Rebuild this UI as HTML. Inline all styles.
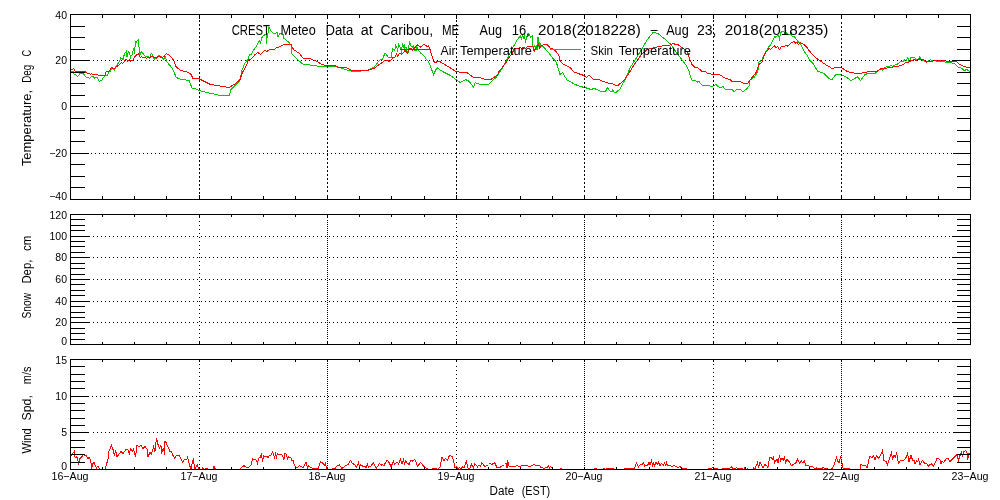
<!DOCTYPE html>
<html><head><meta charset="utf-8"><style>
html,body{margin:0;padding:0;background:#fff;width:1000px;height:500px;overflow:hidden}
svg{display:block}
text{font-family:"Liberation Sans",sans-serif;fill:#000;-webkit-font-smoothing:antialiased}
.t{will-change:transform}
</style></head><body>
<svg width="1000" height="500" viewBox="0 0 1000 500">
<rect width="1000" height="500" fill="#fff"/>
<g shape-rendering="crispEdges">
<polyline points="70.0,71.5 73.3,71.5 74.4,74.8 76.3,75.1 77.4,76.5 79.9,73.8 81.5,73.2 83.2,73.5 84.8,75.7 86.5,77.6 88.7,77.6 89.5,78.7 90.9,77.0 92.0,76.2 93.7,77.0 94.8,78.2 95.8,77.6 97.5,77.6 99.4,81.5 100.8,80.6 101.9,80.1 103.0,78.2 105.2,75.7 106.3,75.1 107.4,75.7 108.5,72.7 110.7,70.7 112.3,68.2 114.5,70.7 115.7,66.9 117.3,64.4 118.4,63.0 119.5,61.1 120.0,60.0 120.7,58.1 122.2,58.7 123.4,59.6 124.3,53.6 124.9,53.0 126.1,52.7 126.4,50.3 127.0,57.2 127.9,53.0 128.5,51.5 129.4,52.4 129.7,54.2 130.6,57.2 131.2,55.4 132.7,54.2 133.3,48.2 134.2,48.5 134.5,54.2 135.4,41.6 136.0,43.4 137.5,40.4 138.4,39.5 138.7,46.7 139.6,47.6 139.9,55.7 141.1,51.5 142.6,53.0 144.4,55.4 145.6,56.3 148.6,56.3 149.5,58.1 151.3,53.3 152.8,54.8 154.0,59.3 156.4,57.8 158.8,55.4 160.6,56.3 163.6,59.3 165.4,56.6 166.6,61.4 169.0,64.4 172.5,68.5 176.2,77.5 180.0,79.0 189.0,80.5 192.0,88.0 195.0,88.7 201.0,91.0 210.0,93.2 220.5,95.5 229.5,95.5 231.0,89.5 240.0,80.5 242.0,70.0 245.0,63.0 247.5,60.0 249.0,56.0 250.0,54.5 251.5,54.0 253.0,51.0 256.0,47.0 258.5,42.0 259.5,40.5 260.5,43.0 261.5,38.5 263.0,36.0 264.5,35.0 266.0,34.5 266.5,43.5 267.0,38.0 269.0,27.5 271.0,31.0 273.0,33.0 275.0,34.0 277.0,32.5 278.0,36.5 279.5,34.0 281.5,33.5 283.0,34.5 284.0,38.5 288.0,41.5 291.0,45.0 292.0,54.0 295.0,57.0 299.0,61.0 303.0,64.0 310.0,65.0 317.0,66.0 325.0,66.0 327.0,66.2 334.5,66.2 352.5,71.5 366.0,70.7 372.0,68.2 374.1,67.5 377.6,62.6 380.4,59.5 382.5,59.1 383.6,56.3 385.3,53.1 388.1,57.0 391.6,57.3 392.3,48.6 393.7,49.6 394.8,51.0 395.4,45.1 396.9,47.2 397.6,51.8 398.6,43.0 399.6,46.9 400.7,47.9 401.4,53.5 402.4,43.0 403.5,48.2 404.2,44.4 404.9,48.2 405.9,46.9 407.0,50.7 408.1,52.1 408.8,46.5 409.4,42.3 411.2,46.1 412.2,47.5 413.6,46.1 414.7,50.4 416.1,50.7 416.8,47.2 418.2,49.3 420.3,52.8 422.4,54.2 424.5,56.3 426.6,59.8 428.7,61.9 430.8,67.5 432.2,71.0 433.5,74.5 437.0,67.7 442.5,71.5 450.0,75.2 456.0,79.7 460.4,82.7 463.4,80.5 466.0,79.7 469.0,81.2 473.5,87.2 475.0,82.7 479.5,84.2 488.5,84.2 496.0,77.5 502.0,68.5 505.5,62.3 507.6,57.4 510.1,53.2 513.2,46.9 516.0,42.0 518.1,38.5 520.5,35.7 521.2,39.2 522.6,35.0 523.7,38.5 524.4,33.6 525.5,42.7 526.5,37.1 527.9,35.7 529.0,33.6 530.4,37.1 532.1,36.0 533.1,47.6 534.2,45.5 535.2,47.6 536.3,46.2 537.0,50.0 538.0,37.1 538.8,46.9 539.8,42.0 540.9,46.2 542.6,46.2 545.4,49.0 549.6,53.9 551.0,56.0 555.2,60.9 556.6,63.0 560.0,74.5 562.5,72.5 567.0,80.0 570.0,81.5 574.0,84.0 580.0,86.5 585.0,87.5 591.0,89.5 594.0,88.5 597.0,89.5 601.0,91.5 605.5,91.5 607.5,87.5 609.5,90.5 612.0,92.0 612.5,89.5 614.5,92.5 616.5,92.0 620.0,89.0 622.5,84.0 626.0,78.0 630.0,68.0 634.0,61.5 635.0,60.0 641.0,50.5 647.0,40.0 653.0,32.5 657.5,33.2 665.0,39.2 671.0,44.5 677.0,53.5 680.0,57.0 684.0,62.5 686.0,65.0 689.0,71.0 691.5,80.0 695.0,80.5 697.5,82.0 699.0,81.5 701.5,85.0 705.0,85.5 707.0,86.0 709.0,85.0 711.0,87.0 713.0,86.0 716.0,84.5 718.0,86.5 721.0,88.0 723.0,86.5 725.0,89.0 730.0,90.0 732.0,89.5 734.0,91.5 737.0,89.5 740.0,89.5 743.0,91.5 746.0,89.5 749.0,86.0 750.0,80.0 754.0,77.5 756.0,74.5 758.0,70.5 759.0,62.0 760.0,61.5 762.0,60.0 764.0,55.0 766.2,51.3 768.3,47.1 770.4,45.0 772.5,41.5 774.6,36.6 776.0,37.3 777.4,35.2 778.8,35.2 779.5,40.5 780.2,33.8 781.6,31.7 783.7,31.7 784.4,33.1 785.8,32.0 787.9,34.5 790.0,34.5 791.0,32.4 792.1,35.9 794.2,36.6 795.6,38.0 797.7,41.5 800.5,43.6 802.6,48.5 804.7,52.0 806.8,54.8 808.9,59.0 813.0,63.5 817.5,71.0 823.5,73.2 828.0,77.7 831.7,80.0 835.5,74.7 841.5,74.7 846.0,77.0 851.2,80.7 857.5,76.7 860.5,80.5 865.0,74.5 869.5,73.0 875.5,73.0 880.0,69.3 881.4,68.8 882.7,70.2 884.5,68.0 887.2,66.2 889.0,66.6 890.8,65.2 892.6,66.2 894.4,65.2 897.1,64.3 899.8,62.1 903.4,61.2 904.8,59.9 906.1,60.3 907.9,57.6 908.8,61.2 909.7,60.8 911.0,57.6 914.2,57.1 916.0,59.4 917.8,59.0 919.6,57.1 921.4,59.4 925.0,61.7 927.7,61.2 930.4,59.9 934.0,60.8 943.0,61.7 948.4,62.5 954.7,63.5 958.3,67.0 961.0,68.0 964.6,70.7 966.4,69.3 970.0,71.5" fill="none" stroke="#00c800" stroke-width="1"/>
<polyline points="70.0,69.6 72.5,69.3 73.6,68.2 74.7,70.2 75.2,71.5 77.7,71.5 80.2,71.5 84.6,71.5 86.0,72.4 87.6,73.5 89.5,73.5 90.6,74.6 91.5,73.5 92.5,74.3 97.5,74.6 98.6,75.7 104.7,75.7 106.3,71.5 107.9,71.5 109.6,70.5 111.5,67.4 112.9,68.2 115.1,68.2 116.2,66.9 117.3,66.3 119.5,64.4 121.2,62.5 122.8,63.6 124.4,61.6 124.6,60.8 126.4,59.3 127.9,61.4 129.4,59.3 130.6,61.1 133.0,60.2 135.4,55.7 138.4,53.6 139.6,56.3 140.5,57.5 141.4,56.3 142.6,57.5 145.6,57.5 146.5,58.4 147.7,57.2 149.2,57.8 151.9,56.3 154.9,57.8 156.4,58.1 158.8,56.0 161.8,57.8 164.2,56.3 166.3,53.6 167.8,54.2 169.0,54.8 172.6,58.7 174.4,62.0 176.2,67.0 180.0,70.0 187.5,72.2 191.2,74.5 192.7,78.2 199.5,79.0 204.0,81.2 210.0,84.2 217.5,85.7 225.0,86.5 228.0,88.0 234.7,84.2 240.0,79.7 242.2,73.0 244.0,70.0 246.5,65.0 249.0,59.0 251.0,59.0 253.0,57.0 255.0,54.5 258.0,52.5 260.5,54.5 263.0,52.0 265.0,50.0 267.0,51.5 270.0,49.0 272.0,50.0 275.0,49.0 277.0,47.0 279.0,47.0 282.0,45.5 285.0,44.0 288.0,44.0 291.0,44.0 292.0,47.0 294.0,50.0 299.0,53.0 303.0,58.0 307.0,58.5 310.0,58.5 312.0,59.5 317.0,61.5 321.0,64.0 325.0,65.5 334.5,65.5 337.5,67.0 346.5,67.7 352.5,70.7 366.0,70.7 374.1,68.5 376.2,66.8 379.0,64.7 381.1,63.3 383.9,61.2 386.0,60.1 388.1,60.5 389.1,61.5 390.9,60.1 393.0,57.7 395.1,57.0 396.5,54.2 397.9,56.3 398.6,54.2 400.0,52.8 401.4,54.5 403.1,53.1 404.9,50.4 406.3,51.8 407.7,53.5 408.4,50.4 409.8,48.6 411.2,48.6 412.6,50.4 414.0,48.6 416.1,46.1 417.5,45.1 419.6,46.5 421.0,47.2 423.8,44.0 425.2,45.1 427.3,46.5 428.7,45.5 429.4,48.2 430.4,51.0 432.2,57.0 434.3,62.2 435.7,62.6 437.1,61.2 439.9,61.5 442.0,63.0 444.0,64.0 450.0,67.7 456.0,71.5 460.0,72.2 467.5,73.0 473.5,77.5 479.5,77.5 484.0,79.0 491.5,79.0 497.5,75.2 499.0,71.5 505.0,64.0 506.2,62.3 509.0,57.4 511.8,53.9 513.9,49.7 515.3,48.3 518.1,49.0 520.2,47.6 521.6,48.3 523.7,47.6 525.8,48.3 527.2,46.9 529.3,46.2 532.8,46.2 534.2,51.1 535.6,48.3 537.4,46.9 538.4,44.8 539.8,48.3 541.2,45.8 544.0,44.5 548.2,45.1 550.3,48.6 553.1,49.0 555.2,50.4 557.0,52.8 558.7,54.6 559.4,58.1 560.0,60.5 563.0,64.0 566.0,65.5 570.0,67.5 574.0,72.0 578.0,73.5 584.0,75.5 586.5,77.5 589.0,75.0 591.0,77.0 593.0,79.0 599.0,79.5 600.5,80.5 603.0,81.5 608.0,83.0 612.0,83.5 615.0,85.0 618.0,85.5 622.0,82.0 625.0,79.0 628.0,75.0 631.0,70.0 634.0,65.0 637.0,61.0 641.0,55.0 647.0,49.7 654.5,47.5 662.0,46.0 669.5,45.2 672.5,43.7 677.7,44.5 683.0,48.2 687.5,52.0 688.5,55.0 690.0,60.0 692.0,64.5 694.5,67.0 698.0,68.0 701.5,71.0 704.5,71.0 707.0,73.0 710.0,73.5 712.0,74.5 718.0,74.0 721.0,75.5 724.0,77.5 728.0,79.0 730.0,79.5 732.0,81.5 736.0,82.0 740.0,81.5 744.0,83.5 748.0,83.0 750.0,80.0 753.0,76.5 756.0,72.5 759.0,64.5 762.0,62.0 764.5,55.0 766.2,52.0 769.0,48.5 770.4,49.5 772.5,47.8 774.2,45.7 776.0,47.8 777.4,46.4 779.5,49.5 781.6,46.4 784.4,46.4 786.5,45.3 787.9,46.4 790.0,44.3 791.4,42.9 794.2,41.5 795.6,43.2 797.0,42.2 798.4,44.3 800.5,42.5 802.6,44.0 804.0,44.3 806.1,46.4 808.2,49.2 809.6,51.3 813.1,54.8 816.6,58.6 817.5,59.0 825.0,64.2 832.5,68.7 836.2,67.2 840.7,67.2 847.5,71.7 855.0,73.2 862.0,73.0 869.5,71.5 877.0,71.5 880.0,69.3 881.8,68.0 884.5,68.8 887.2,68.0 889.9,67.0 891.7,67.5 894.4,66.6 897.1,66.6 898.9,66.2 901.6,65.2 903.4,64.3 906.1,62.1 907.9,62.5 909.7,61.7 911.5,60.3 914.2,59.9 916.0,60.3 919.6,59.0 923.2,59.4 925.0,60.8 926.8,62.1 928.6,61.2 931.3,61.7 934.0,60.8 943.0,60.8 948.4,61.2 956.5,61.7 959.2,64.3 963.7,66.2 967.3,67.5 970.0,68.0" fill="none" stroke="#ff0000" stroke-width="1"/>
<polyline points="70.0,455.5 71.5,455.0 73.5,452.5 74.5,451.0 75.0,457.0 76.0,458.0 77.0,456.5 78.5,463.0 80.0,458.5 82.0,456.5 83.5,454.5 85.0,456.0 86.5,455.5 87.5,458.5 89.5,457.5 91.0,463.0 91.5,469.5 92.5,464.0 94.0,462.5 95.5,466.0 96.5,468.0 98.0,466.0 99.5,468.5 100.0,469.5 105.0,469.5 108.0,459.0 109.0,451.0 111.5,445.5 113.0,449.5 114.5,455.5 115.5,450.0 117.0,457.0 119.0,454.0 121.0,451.5 123.0,453.5 126.0,449.5 128.0,450.0 129.5,454.5 130.5,448.5 132.5,451.5 133.5,449.0 135.5,456.5 137.0,445.0 139.0,447.0 141.0,445.5 143.0,448.5 145.0,446.5 147.0,449.0 148.0,456.5 150.0,452.5 151.5,454.0 153.5,447.0 155.0,451.5 156.5,438.0 158.0,444.5 159.5,448.0 161.0,445.5 161.5,453.5 163.5,448.0 164.5,454.5 165.0,441.5 166.0,442.5 167.5,446.0 168.5,447.5 169.5,451.0 171.0,451.0 173.0,455.5 174.5,458.0 176.5,455.5 179.0,455.5 180.5,458.0 182.5,462.0 184.5,459.5 187.0,459.0 187.5,457.5 189.5,465.0 191.0,469.5 192.5,461.5 193.5,458.5 194.5,469.5 196.5,466.0 197.5,465.0 198.5,469.5 202.0,469.5 202.5,467.5 204.0,469.5 207.0,468.5 208.0,469.5 213.0,469.5 214.0,466.5 215.0,468.5 216.0,469.5 239.5,469.5 241.0,468.0 244.0,465.5 245.5,467.0 248.5,467.5 250.0,466.0 251.0,465.0 252.5,458.5 254.0,460.0 255.5,459.5 256.5,461.0 257.5,463.5 258.5,458.5 260.0,457.5 261.5,454.5 262.5,461.5 263.5,456.0 265.0,457.0 267.0,456.0 268.0,457.5 269.5,455.5 271.0,455.0 272.5,452.0 273.5,453.5 274.5,458.5 275.5,454.0 276.5,457.0 277.5,453.5 279.0,454.5 281.0,454.5 282.5,455.5 284.0,459.5 285.0,453.5 286.5,454.5 287.5,460.0 288.5,456.5 290.0,457.5 291.5,458.5 292.0,460.5 293.0,460.5 294.0,464.0 295.5,467.5 297.5,467.5 299.5,465.5 301.0,466.5 303.0,467.5 306.0,462.5 307.5,468.0 308.5,466.0 311.0,467.5 313.0,468.5 316.5,468.5 318.5,468.0 320.5,461.5 322.5,463.0 324.5,465.0 325.5,463.0 326.5,468.5 329.0,469.5 335.0,468.5 337.5,465.5 339.5,465.0 342.0,468.5 345.0,466.0 348.0,464.5 350.5,460.5 352.5,463.5 354.5,464.5 356.5,467.5 357.0,466.0 358.5,462.5 359.5,467.0 360.5,464.5 362.5,466.0 364.5,466.0 366.0,467.5 367.5,464.5 368.5,467.0 371.0,466.0 373.5,462.5 375.0,466.0 376.5,468.0 379.5,463.5 381.5,465.0 382.5,464.5 384.0,465.5 387.0,460.0 388.5,461.5 391.0,466.5 393.5,461.5 394.5,464.0 396.0,463.0 397.5,462.5 398.5,464.0 400.5,459.5 402.0,464.0 403.5,459.5 404.5,464.5 405.5,460.5 407.0,463.0 409.0,464.5 410.5,460.5 412.5,461.0 414.5,459.5 416.0,462.0 417.5,466.5 420.5,462.5 423.5,466.0 425.0,467.5 427.5,468.5 429.0,469.5 435.0,468.5 438.0,469.5 440.0,467.0 442.0,457.5 444.0,461.0 445.5,458.5 447.5,460.0 449.5,455.5 450.0,455.0 451.5,456.5 452.5,456.5 454.0,463.0 455.0,467.5 456.5,466.5 458.0,468.5 459.5,467.5 461.0,468.5 462.5,467.0 464.0,468.0 465.5,464.0 466.5,460.0 467.5,467.0 469.0,469.5 470.5,467.0 471.5,464.0 472.5,466.0 473.5,468.0 474.5,464.0 476.5,465.5 477.5,467.0 479.0,465.0 480.5,466.5 481.5,463.0 483.5,464.5 484.5,466.5 487.0,465.5 488.5,464.5 490.0,463.0 492.0,464.5 494.5,462.5 495.5,464.5 497.0,467.5 500.0,467.5 502.0,466.0 504.5,464.5 506.0,463.0 507.0,468.0 507.5,460.0 509.0,466.0 512.0,466.5 515.0,467.0 517.0,465.5 519.0,466.5 521.0,466.0 524.0,465.0 526.0,466.0 527.0,465.0 529.0,467.0 531.0,466.0 534.5,464.5 537.0,466.0 539.5,465.5 541.0,467.5 543.0,468.0 545.0,468.0 547.0,467.5 548.5,466.0 549.5,468.0 550.5,466.5 552.0,468.0 553.0,469.5 560.0,469.5 561.0,468.5 562.0,469.5 594.0,469.5 594.5,468.5 596.5,468.5 597.0,469.5 603.5,469.5 604.0,468.5 605.0,469.5 607.0,468.5 609.0,468.5 610.0,469.5 611.0,468.5 613.0,468.5 614.0,469.5 624.0,469.5 625.0,468.5 630.0,468.5 631.0,469.5 632.0,468.5 634.5,468.5 636.5,463.0 638.5,467.0 640.0,465.0 642.0,464.5 643.5,462.5 644.5,466.0 646.0,465.0 647.5,465.5 649.0,462.5 650.0,464.5 651.5,460.5 652.5,465.5 653.5,463.0 654.5,466.0 656.0,462.5 657.5,464.5 658.5,462.5 660.0,465.5 661.5,463.5 663.5,465.0 664.5,463.0 666.0,465.5 666.5,462.5 668.0,466.0 670.0,465.5 672.0,466.5 674.0,465.5 676.0,466.5 678.0,467.5 680.0,466.5 682.0,468.5 684.0,468.0 686.0,468.5 687.0,469.5 708.0,469.5 709.0,468.5 711.0,468.5 713.0,467.5 714.5,468.5 717.0,468.5 718.0,469.5 722.0,469.5 723.0,468.5 725.0,468.0 727.0,468.5 730.0,468.0 731.5,466.5 732.5,468.5 734.5,468.5 735.0,469.5 736.5,467.5 738.0,469.5 740.0,468.0 742.0,468.5 743.5,469.5 745.0,467.5 746.5,469.5 747.5,468.5 748.5,469.5 752.5,469.5 753.5,468.0 755.0,468.5 756.0,466.0 757.5,462.5 758.5,467.5 760.0,462.0 762.0,466.0 763.0,467.5 765.0,464.5 767.0,466.0 768.0,467.5 769.5,458.0 771.0,457.0 772.5,459.5 773.5,457.5 774.5,463.0 776.0,460.5 777.0,459.5 778.0,463.0 779.5,455.5 780.5,461.0 782.0,458.0 783.5,460.5 784.5,456.5 785.5,463.0 787.0,459.5 789.0,461.5 791.5,465.5 793.5,464.5 796.0,462.5 797.5,459.5 799.5,463.0 801.5,461.0 803.0,463.0 804.5,460.5 805.5,465.5 808.0,465.5 809.5,466.5 812.5,466.5 814.5,468.5 816.5,468.0 818.5,468.5 822.0,468.5 823.0,467.5 825.0,468.5 827.0,468.5 829.0,469.5 830.0,469.5 832.0,468.5 834.0,465.0 836.5,457.5 838.0,461.5 839.0,462.5 840.5,457.5 841.5,460.0 842.0,463.5 843.0,468.0 844.5,468.5 846.0,468.5 847.5,468.5 849.5,468.5 850.0,469.5 860.0,469.5 861.0,464.5 863.0,465.5 866.0,466.0 867.0,467.5 868.5,462.5 869.5,456.5 872.0,457.5 873.5,455.5 875.0,459.5 876.5,456.0 878.5,458.0 880.5,455.5 882.5,450.5 884.0,460.5 886.0,461.5 887.5,464.5 889.0,460.5 890.5,455.0 891.5,452.5 892.5,458.5 894.0,455.5 895.5,457.5 896.5,452.5 898.5,463.5 900.5,460.0 901.5,460.0 904.0,460.0 906.0,457.5 907.5,453.5 909.0,461.5 911.0,455.5 912.5,460.0 914.0,460.5 915.0,464.0 916.5,461.0 918.0,461.5 918.5,459.5 920.0,465.0 921.5,462.0 922.5,460.5 924.5,463.0 926.0,463.0 928.5,466.0 930.0,464.5 931.5,464.0 933.5,466.0 935.5,462.5 937.0,458.5 938.5,458.5 940.0,460.0 941.0,464.0 942.0,461.5 943.5,462.5 946.0,459.0 948.0,458.5 949.5,461.0 950.5,461.0 954.0,457.5 957.0,454.5 958.5,460.5 960.0,455.5 961.5,452.5 962.5,457.0 964.0,451.5 965.5,450.5 967.0,452.5 967.5,459.5 969.0,453.5 970.0,453.5" fill="none" stroke="#ff0000" stroke-width="1"/>
<rect x="400" y="49" width="31" height="1" fill="#ff0000"/>
<rect x="550" y="49" width="31" height="1" fill="#00c800"/>
</g>
<g shape-rendering="crispEdges">
<rect x="70" y="14" width="901" height="1" fill="#000"/>
<rect x="70" y="199" width="901" height="1" fill="#000"/>
<rect x="70" y="14" width="1" height="186" fill="#000"/>
<rect x="970" y="14" width="1" height="186" fill="#000"/>
<rect x="70" y="14" width="20" height="1" fill="#000"/>
<rect x="952" y="14" width="19" height="1" fill="#000"/>
<rect x="70" y="26" width="15" height="1" fill="#000"/>
<rect x="957" y="26" width="14" height="1" fill="#000"/>
<rect x="70" y="37" width="15" height="1" fill="#000"/>
<rect x="957" y="37" width="14" height="1" fill="#000"/>
<rect x="70" y="49" width="15" height="1" fill="#000"/>
<rect x="957" y="49" width="14" height="1" fill="#000"/>
<rect x="70" y="60" width="20" height="1" fill="#000"/>
<rect x="952" y="60" width="19" height="1" fill="#000"/>
<path d="M93 60.5H951" stroke="#000" stroke-width="1" stroke-dasharray="1 3"/>
<rect x="70" y="72" width="15" height="1" fill="#000"/>
<rect x="957" y="72" width="14" height="1" fill="#000"/>
<rect x="70" y="83" width="15" height="1" fill="#000"/>
<rect x="957" y="83" width="14" height="1" fill="#000"/>
<rect x="70" y="95" width="15" height="1" fill="#000"/>
<rect x="957" y="95" width="14" height="1" fill="#000"/>
<rect x="70" y="106" width="19" height="1" fill="#000"/>
<rect x="953" y="106" width="18" height="1" fill="#000"/>
<path d="M92 106.5H952" stroke="#000" stroke-width="1" stroke-dasharray="1 3"/>
<rect x="70" y="118" width="15" height="1" fill="#000"/>
<rect x="957" y="118" width="14" height="1" fill="#000"/>
<rect x="70" y="130" width="15" height="1" fill="#000"/>
<rect x="957" y="130" width="14" height="1" fill="#000"/>
<rect x="70" y="141" width="15" height="1" fill="#000"/>
<rect x="957" y="141" width="14" height="1" fill="#000"/>
<rect x="70" y="153" width="19" height="1" fill="#000"/>
<rect x="953" y="153" width="18" height="1" fill="#000"/>
<path d="M91 153.5H952" stroke="#000" stroke-width="1" stroke-dasharray="1 3"/>
<rect x="70" y="164" width="15" height="1" fill="#000"/>
<rect x="957" y="164" width="14" height="1" fill="#000"/>
<rect x="70" y="176" width="15" height="1" fill="#000"/>
<rect x="957" y="176" width="14" height="1" fill="#000"/>
<rect x="70" y="187" width="15" height="1" fill="#000"/>
<rect x="957" y="187" width="14" height="1" fill="#000"/>
<rect x="70" y="199" width="20" height="1" fill="#000"/>
<rect x="952" y="199" width="19" height="1" fill="#000"/>
<rect x="102" y="14" width="1" height="4" fill="#000"/>
<rect x="102" y="196" width="1" height="4" fill="#000"/>
<rect x="134" y="14" width="1" height="4" fill="#000"/>
<rect x="134" y="196" width="1" height="4" fill="#000"/>
<rect x="166" y="14" width="1" height="4" fill="#000"/>
<rect x="166" y="196" width="1" height="4" fill="#000"/>
<rect x="231" y="14" width="1" height="4" fill="#000"/>
<rect x="231" y="196" width="1" height="4" fill="#000"/>
<rect x="263" y="14" width="1" height="4" fill="#000"/>
<rect x="263" y="196" width="1" height="4" fill="#000"/>
<rect x="295" y="14" width="1" height="4" fill="#000"/>
<rect x="295" y="196" width="1" height="4" fill="#000"/>
<rect x="359" y="14" width="1" height="4" fill="#000"/>
<rect x="359" y="196" width="1" height="4" fill="#000"/>
<rect x="391" y="14" width="1" height="4" fill="#000"/>
<rect x="391" y="196" width="1" height="4" fill="#000"/>
<rect x="424" y="14" width="1" height="4" fill="#000"/>
<rect x="424" y="196" width="1" height="4" fill="#000"/>
<rect x="488" y="14" width="1" height="4" fill="#000"/>
<rect x="488" y="196" width="1" height="4" fill="#000"/>
<rect x="520" y="14" width="1" height="4" fill="#000"/>
<rect x="520" y="196" width="1" height="4" fill="#000"/>
<rect x="552" y="14" width="1" height="4" fill="#000"/>
<rect x="552" y="196" width="1" height="4" fill="#000"/>
<rect x="616" y="14" width="1" height="4" fill="#000"/>
<rect x="616" y="196" width="1" height="4" fill="#000"/>
<rect x="649" y="14" width="1" height="4" fill="#000"/>
<rect x="649" y="196" width="1" height="4" fill="#000"/>
<rect x="681" y="14" width="1" height="4" fill="#000"/>
<rect x="681" y="196" width="1" height="4" fill="#000"/>
<rect x="745" y="14" width="1" height="4" fill="#000"/>
<rect x="745" y="196" width="1" height="4" fill="#000"/>
<rect x="777" y="14" width="1" height="4" fill="#000"/>
<rect x="777" y="196" width="1" height="4" fill="#000"/>
<rect x="809" y="14" width="1" height="4" fill="#000"/>
<rect x="809" y="196" width="1" height="4" fill="#000"/>
<rect x="874" y="14" width="1" height="4" fill="#000"/>
<rect x="874" y="196" width="1" height="4" fill="#000"/>
<rect x="906" y="14" width="1" height="4" fill="#000"/>
<rect x="906" y="196" width="1" height="4" fill="#000"/>
<rect x="938" y="14" width="1" height="4" fill="#000"/>
<rect x="938" y="196" width="1" height="4" fill="#000"/>
<rect x="199" y="14" width="1" height="5" fill="#000"/>
<rect x="199" y="195" width="1" height="5" fill="#000"/>
<path d="M199.5 20V194" stroke="#000" stroke-width="1" stroke-dasharray="2 2"/>
<rect x="327" y="14" width="1" height="5" fill="#000"/>
<rect x="327" y="195" width="1" height="5" fill="#000"/>
<path d="M327.5 22V194" stroke="#000" stroke-width="1" stroke-dasharray="2 2"/>
<rect x="456" y="14" width="1" height="5" fill="#000"/>
<rect x="456" y="195" width="1" height="5" fill="#000"/>
<path d="M456.5 20V194" stroke="#000" stroke-width="1" stroke-dasharray="2 2"/>
<rect x="584" y="14" width="1" height="5" fill="#000"/>
<rect x="584" y="195" width="1" height="5" fill="#000"/>
<path d="M584.5 22V194" stroke="#000" stroke-width="1" stroke-dasharray="2 2"/>
<rect x="713" y="14" width="1" height="5" fill="#000"/>
<rect x="713" y="195" width="1" height="5" fill="#000"/>
<path d="M713.5 20V194" stroke="#000" stroke-width="1" stroke-dasharray="2 2"/>
<rect x="841" y="14" width="1" height="5" fill="#000"/>
<rect x="841" y="195" width="1" height="5" fill="#000"/>
<path d="M841.5 22V194" stroke="#000" stroke-width="1" stroke-dasharray="2 2"/>
<rect x="70" y="214" width="901" height="1" fill="#000"/>
<rect x="70" y="344" width="901" height="1" fill="#000"/>
<rect x="70" y="214" width="1" height="131" fill="#000"/>
<rect x="970" y="214" width="1" height="131" fill="#000"/>
<rect x="70" y="214" width="20" height="1" fill="#000"/>
<rect x="952" y="214" width="19" height="1" fill="#000"/>
<rect x="70" y="219" width="15" height="1" fill="#000"/>
<rect x="957" y="219" width="14" height="1" fill="#000"/>
<rect x="70" y="225" width="15" height="1" fill="#000"/>
<rect x="957" y="225" width="14" height="1" fill="#000"/>
<rect x="70" y="230" width="15" height="1" fill="#000"/>
<rect x="957" y="230" width="14" height="1" fill="#000"/>
<rect x="70" y="236" width="20" height="1" fill="#000"/>
<rect x="952" y="236" width="19" height="1" fill="#000"/>
<path d="M93 236.5H951" stroke="#000" stroke-width="1" stroke-dasharray="1 3"/>
<rect x="70" y="241" width="15" height="1" fill="#000"/>
<rect x="957" y="241" width="14" height="1" fill="#000"/>
<rect x="70" y="246" width="15" height="1" fill="#000"/>
<rect x="957" y="246" width="14" height="1" fill="#000"/>
<rect x="70" y="252" width="15" height="1" fill="#000"/>
<rect x="957" y="252" width="14" height="1" fill="#000"/>
<rect x="70" y="257" width="20" height="1" fill="#000"/>
<rect x="952" y="257" width="19" height="1" fill="#000"/>
<path d="M93 257.5H951" stroke="#000" stroke-width="1" stroke-dasharray="1 3"/>
<rect x="70" y="263" width="15" height="1" fill="#000"/>
<rect x="957" y="263" width="14" height="1" fill="#000"/>
<rect x="70" y="268" width="15" height="1" fill="#000"/>
<rect x="957" y="268" width="14" height="1" fill="#000"/>
<rect x="70" y="274" width="15" height="1" fill="#000"/>
<rect x="957" y="274" width="14" height="1" fill="#000"/>
<rect x="70" y="279" width="20" height="1" fill="#000"/>
<rect x="952" y="279" width="19" height="1" fill="#000"/>
<path d="M93 279.5H951" stroke="#000" stroke-width="1" stroke-dasharray="1 3"/>
<rect x="70" y="284" width="15" height="1" fill="#000"/>
<rect x="957" y="284" width="14" height="1" fill="#000"/>
<rect x="70" y="290" width="15" height="1" fill="#000"/>
<rect x="957" y="290" width="14" height="1" fill="#000"/>
<rect x="70" y="295" width="15" height="1" fill="#000"/>
<rect x="957" y="295" width="14" height="1" fill="#000"/>
<rect x="70" y="301" width="20" height="1" fill="#000"/>
<rect x="952" y="301" width="19" height="1" fill="#000"/>
<path d="M93 301.5H951" stroke="#000" stroke-width="1" stroke-dasharray="1 3"/>
<rect x="70" y="306" width="15" height="1" fill="#000"/>
<rect x="957" y="306" width="14" height="1" fill="#000"/>
<rect x="70" y="312" width="15" height="1" fill="#000"/>
<rect x="957" y="312" width="14" height="1" fill="#000"/>
<rect x="70" y="317" width="15" height="1" fill="#000"/>
<rect x="957" y="317" width="14" height="1" fill="#000"/>
<rect x="70" y="322" width="20" height="1" fill="#000"/>
<rect x="952" y="322" width="19" height="1" fill="#000"/>
<path d="M93 322.5H951" stroke="#000" stroke-width="1" stroke-dasharray="1 3"/>
<rect x="70" y="328" width="15" height="1" fill="#000"/>
<rect x="957" y="328" width="14" height="1" fill="#000"/>
<rect x="70" y="333" width="15" height="1" fill="#000"/>
<rect x="957" y="333" width="14" height="1" fill="#000"/>
<rect x="70" y="339" width="15" height="1" fill="#000"/>
<rect x="957" y="339" width="14" height="1" fill="#000"/>
<rect x="70" y="344" width="20" height="1" fill="#000"/>
<rect x="952" y="344" width="19" height="1" fill="#000"/>
<rect x="102" y="214" width="1" height="3" fill="#000"/>
<rect x="102" y="342" width="1" height="3" fill="#000"/>
<rect x="134" y="214" width="1" height="3" fill="#000"/>
<rect x="134" y="342" width="1" height="3" fill="#000"/>
<rect x="166" y="214" width="1" height="3" fill="#000"/>
<rect x="166" y="342" width="1" height="3" fill="#000"/>
<rect x="231" y="214" width="1" height="3" fill="#000"/>
<rect x="231" y="342" width="1" height="3" fill="#000"/>
<rect x="263" y="214" width="1" height="3" fill="#000"/>
<rect x="263" y="342" width="1" height="3" fill="#000"/>
<rect x="295" y="214" width="1" height="3" fill="#000"/>
<rect x="295" y="342" width="1" height="3" fill="#000"/>
<rect x="359" y="214" width="1" height="3" fill="#000"/>
<rect x="359" y="342" width="1" height="3" fill="#000"/>
<rect x="391" y="214" width="1" height="3" fill="#000"/>
<rect x="391" y="342" width="1" height="3" fill="#000"/>
<rect x="424" y="214" width="1" height="3" fill="#000"/>
<rect x="424" y="342" width="1" height="3" fill="#000"/>
<rect x="488" y="214" width="1" height="3" fill="#000"/>
<rect x="488" y="342" width="1" height="3" fill="#000"/>
<rect x="520" y="214" width="1" height="3" fill="#000"/>
<rect x="520" y="342" width="1" height="3" fill="#000"/>
<rect x="552" y="214" width="1" height="3" fill="#000"/>
<rect x="552" y="342" width="1" height="3" fill="#000"/>
<rect x="616" y="214" width="1" height="3" fill="#000"/>
<rect x="616" y="342" width="1" height="3" fill="#000"/>
<rect x="649" y="214" width="1" height="3" fill="#000"/>
<rect x="649" y="342" width="1" height="3" fill="#000"/>
<rect x="681" y="214" width="1" height="3" fill="#000"/>
<rect x="681" y="342" width="1" height="3" fill="#000"/>
<rect x="745" y="214" width="1" height="3" fill="#000"/>
<rect x="745" y="342" width="1" height="3" fill="#000"/>
<rect x="777" y="214" width="1" height="3" fill="#000"/>
<rect x="777" y="342" width="1" height="3" fill="#000"/>
<rect x="809" y="214" width="1" height="3" fill="#000"/>
<rect x="809" y="342" width="1" height="3" fill="#000"/>
<rect x="874" y="214" width="1" height="3" fill="#000"/>
<rect x="874" y="342" width="1" height="3" fill="#000"/>
<rect x="906" y="214" width="1" height="3" fill="#000"/>
<rect x="906" y="342" width="1" height="3" fill="#000"/>
<rect x="938" y="214" width="1" height="3" fill="#000"/>
<rect x="938" y="342" width="1" height="3" fill="#000"/>
<rect x="199" y="214" width="1" height="4" fill="#000"/>
<rect x="199" y="341" width="1" height="4" fill="#000"/>
<path d="M199.5 221V340" stroke="#000" stroke-width="1" stroke-dasharray="1 3"/>
<rect x="327" y="214" width="1" height="4" fill="#000"/>
<rect x="327" y="341" width="1" height="4" fill="#000"/>
<path d="M327.5 220V340" stroke="#000" stroke-width="1" stroke-dasharray="1 1"/>
<rect x="456" y="214" width="1" height="4" fill="#000"/>
<rect x="456" y="341" width="1" height="4" fill="#000"/>
<path d="M456.5 219V340" stroke="#000" stroke-width="1" stroke-dasharray="1 3"/>
<rect x="584" y="214" width="1" height="4" fill="#000"/>
<rect x="584" y="341" width="1" height="4" fill="#000"/>
<path d="M584.5 220V340" stroke="#000" stroke-width="1" stroke-dasharray="1 1"/>
<rect x="713" y="214" width="1" height="4" fill="#000"/>
<rect x="713" y="341" width="1" height="4" fill="#000"/>
<path d="M713.5 221V340" stroke="#000" stroke-width="1" stroke-dasharray="1 3"/>
<rect x="841" y="214" width="1" height="4" fill="#000"/>
<rect x="841" y="341" width="1" height="4" fill="#000"/>
<path d="M841.5 220V340" stroke="#000" stroke-width="1" stroke-dasharray="1 1"/>
<rect x="70" y="359" width="901" height="1" fill="#000"/>
<rect x="70" y="469" width="901" height="1" fill="#000"/>
<rect x="70" y="359" width="1" height="111" fill="#000"/>
<rect x="970" y="359" width="1" height="111" fill="#000"/>
<rect x="70" y="359" width="20" height="1" fill="#000"/>
<rect x="952" y="359" width="19" height="1" fill="#000"/>
<rect x="70" y="366" width="15" height="1" fill="#000"/>
<rect x="957" y="366" width="14" height="1" fill="#000"/>
<rect x="70" y="374" width="15" height="1" fill="#000"/>
<rect x="957" y="374" width="14" height="1" fill="#000"/>
<rect x="70" y="381" width="15" height="1" fill="#000"/>
<rect x="957" y="381" width="14" height="1" fill="#000"/>
<rect x="70" y="388" width="15" height="1" fill="#000"/>
<rect x="957" y="388" width="14" height="1" fill="#000"/>
<rect x="70" y="396" width="19" height="1" fill="#000"/>
<rect x="953" y="396" width="18" height="1" fill="#000"/>
<path d="M92 396.5H952" stroke="#000" stroke-width="1" stroke-dasharray="1 3"/>
<rect x="70" y="403" width="15" height="1" fill="#000"/>
<rect x="957" y="403" width="14" height="1" fill="#000"/>
<rect x="70" y="410" width="15" height="1" fill="#000"/>
<rect x="957" y="410" width="14" height="1" fill="#000"/>
<rect x="70" y="418" width="15" height="1" fill="#000"/>
<rect x="957" y="418" width="14" height="1" fill="#000"/>
<rect x="70" y="425" width="15" height="1" fill="#000"/>
<rect x="957" y="425" width="14" height="1" fill="#000"/>
<rect x="70" y="432" width="19" height="1" fill="#000"/>
<rect x="953" y="432" width="18" height="1" fill="#000"/>
<path d="M93 432.5H952" stroke="#000" stroke-width="1" stroke-dasharray="1 3"/>
<rect x="70" y="440" width="15" height="1" fill="#000"/>
<rect x="957" y="440" width="14" height="1" fill="#000"/>
<rect x="70" y="447" width="15" height="1" fill="#000"/>
<rect x="957" y="447" width="14" height="1" fill="#000"/>
<rect x="70" y="454" width="15" height="1" fill="#000"/>
<rect x="957" y="454" width="14" height="1" fill="#000"/>
<rect x="70" y="462" width="15" height="1" fill="#000"/>
<rect x="957" y="462" width="14" height="1" fill="#000"/>
<rect x="70" y="469" width="20" height="1" fill="#000"/>
<rect x="952" y="469" width="19" height="1" fill="#000"/>
<rect x="102" y="359" width="1" height="3" fill="#000"/>
<rect x="102" y="467" width="1" height="3" fill="#000"/>
<rect x="134" y="359" width="1" height="3" fill="#000"/>
<rect x="134" y="467" width="1" height="3" fill="#000"/>
<rect x="166" y="359" width="1" height="3" fill="#000"/>
<rect x="166" y="467" width="1" height="3" fill="#000"/>
<rect x="231" y="359" width="1" height="3" fill="#000"/>
<rect x="231" y="467" width="1" height="3" fill="#000"/>
<rect x="263" y="359" width="1" height="3" fill="#000"/>
<rect x="263" y="467" width="1" height="3" fill="#000"/>
<rect x="295" y="359" width="1" height="3" fill="#000"/>
<rect x="295" y="467" width="1" height="3" fill="#000"/>
<rect x="359" y="359" width="1" height="3" fill="#000"/>
<rect x="359" y="467" width="1" height="3" fill="#000"/>
<rect x="391" y="359" width="1" height="3" fill="#000"/>
<rect x="391" y="467" width="1" height="3" fill="#000"/>
<rect x="424" y="359" width="1" height="3" fill="#000"/>
<rect x="424" y="467" width="1" height="3" fill="#000"/>
<rect x="488" y="359" width="1" height="3" fill="#000"/>
<rect x="488" y="467" width="1" height="3" fill="#000"/>
<rect x="520" y="359" width="1" height="3" fill="#000"/>
<rect x="520" y="467" width="1" height="3" fill="#000"/>
<rect x="552" y="359" width="1" height="3" fill="#000"/>
<rect x="552" y="467" width="1" height="3" fill="#000"/>
<rect x="616" y="359" width="1" height="3" fill="#000"/>
<rect x="616" y="467" width="1" height="3" fill="#000"/>
<rect x="649" y="359" width="1" height="3" fill="#000"/>
<rect x="649" y="467" width="1" height="3" fill="#000"/>
<rect x="681" y="359" width="1" height="3" fill="#000"/>
<rect x="681" y="467" width="1" height="3" fill="#000"/>
<rect x="745" y="359" width="1" height="3" fill="#000"/>
<rect x="745" y="467" width="1" height="3" fill="#000"/>
<rect x="777" y="359" width="1" height="3" fill="#000"/>
<rect x="777" y="467" width="1" height="3" fill="#000"/>
<rect x="809" y="359" width="1" height="3" fill="#000"/>
<rect x="809" y="467" width="1" height="3" fill="#000"/>
<rect x="874" y="359" width="1" height="3" fill="#000"/>
<rect x="874" y="467" width="1" height="3" fill="#000"/>
<rect x="906" y="359" width="1" height="3" fill="#000"/>
<rect x="906" y="467" width="1" height="3" fill="#000"/>
<rect x="938" y="359" width="1" height="3" fill="#000"/>
<rect x="938" y="467" width="1" height="3" fill="#000"/>
<rect x="199" y="359" width="1" height="3" fill="#000"/>
<rect x="199" y="467" width="1" height="3" fill="#000"/>
<path d="M199.5 364V466" stroke="#000" stroke-width="1" stroke-dasharray="1 3"/>
<rect x="327" y="359" width="1" height="3" fill="#000"/>
<rect x="327" y="467" width="1" height="3" fill="#000"/>
<path d="M327.5 363V466" stroke="#000" stroke-width="1" stroke-dasharray="1 1"/>
<rect x="456" y="359" width="1" height="3" fill="#000"/>
<rect x="456" y="467" width="1" height="3" fill="#000"/>
<path d="M456.5 366V466" stroke="#000" stroke-width="1" stroke-dasharray="1 3"/>
<rect x="584" y="359" width="1" height="3" fill="#000"/>
<rect x="584" y="467" width="1" height="3" fill="#000"/>
<path d="M584.5 363V466" stroke="#000" stroke-width="1" stroke-dasharray="1 1"/>
<rect x="713" y="359" width="1" height="3" fill="#000"/>
<rect x="713" y="467" width="1" height="3" fill="#000"/>
<path d="M713.5 364V466" stroke="#000" stroke-width="1" stroke-dasharray="1 3"/>
<rect x="841" y="359" width="1" height="3" fill="#000"/>
<rect x="841" y="467" width="1" height="3" fill="#000"/>
<path d="M841.5 363V466" stroke="#000" stroke-width="1" stroke-dasharray="1 1"/>
</g>
<g class="t">
<text x="67" y="19.0" font-size="10.5" text-anchor="end">40</text>
<text x="67" y="64.0" font-size="10.5" text-anchor="end">20</text>
<text x="67" y="110.3" font-size="10.5" text-anchor="end">0</text>
<text x="67" y="156.6" font-size="10.5" text-anchor="end">&#8722;20</text>
<text x="67" y="200" font-size="10.5" text-anchor="end">&#8722;40</text>
<text x="67" y="219.0" font-size="10.5" text-anchor="end">120</text>
<text x="67" y="239.5" font-size="10.5" text-anchor="end">100</text>
<text x="67" y="261.1" font-size="10.5" text-anchor="end">80</text>
<text x="67" y="282.8" font-size="10.5" text-anchor="end">60</text>
<text x="67" y="304.5" font-size="10.5" text-anchor="end">40</text>
<text x="67" y="326.1" font-size="10.5" text-anchor="end">20</text>
<text x="67" y="345" font-size="10.5" text-anchor="end">0</text>
<text x="67" y="364.0" font-size="10.5" text-anchor="end">15</text>
<text x="67" y="399.5" font-size="10.5" text-anchor="end">10</text>
<text x="67" y="436.1" font-size="10.5" text-anchor="end">5</text>
<text x="67" y="470" font-size="10.5" text-anchor="end">0</text>
<text x="231.7" y="35" font-size="14" textLength="38.3" lengthAdjust="spacingAndGlyphs">CREST</text>
<text x="280.5" y="35" font-size="14" textLength="35.2" lengthAdjust="spacingAndGlyphs">Meteo</text>
<text x="325.5" y="35" font-size="14" textLength="27.7" lengthAdjust="spacingAndGlyphs">Data</text>
<text x="360.7" y="35" font-size="14" textLength="12.0" lengthAdjust="spacingAndGlyphs">at</text>
<text x="380.5" y="35" font-size="14" textLength="52.5" lengthAdjust="spacingAndGlyphs">Caribou,</text>
<text x="442" y="35" font-size="14" textLength="17.2" lengthAdjust="spacingAndGlyphs">ME</text>
<text x="479.5" y="35" font-size="14" textLength="22.5" lengthAdjust="spacingAndGlyphs">Aug</text>
<text x="511.7" y="35" font-size="14" textLength="18.0" lengthAdjust="spacingAndGlyphs">16,</text>
<text x="538" y="35" font-size="14" textLength="102.7" lengthAdjust="spacingAndGlyphs">2018(2018228)</text>
<text x="649.7" y="35" font-size="14" textLength="8.3" lengthAdjust="spacingAndGlyphs">&#8722;</text>
<text x="666.2" y="35" font-size="14" textLength="22.5" lengthAdjust="spacingAndGlyphs">Aug</text>
<text x="697" y="35" font-size="14" textLength="19.5" lengthAdjust="spacingAndGlyphs">23,</text>
<text x="724.7" y="35" font-size="14" textLength="103.6" lengthAdjust="spacingAndGlyphs">2018(2018235)</text>
<text x="440.5" y="55" font-size="13" textLength="15.0" lengthAdjust="spacingAndGlyphs">Air</text>
<text x="460" y="55" font-size="13" textLength="72.0" lengthAdjust="spacingAndGlyphs">Temperature</text>
<text x="590.6" y="55" font-size="13" textLength="22.4" lengthAdjust="spacingAndGlyphs">Skin</text>
<text x="618.4" y="55" font-size="13" textLength="72.6" lengthAdjust="spacingAndGlyphs">Temperature</text>
<text x="51.5" y="480" font-size="11" textLength="37.0" lengthAdjust="spacingAndGlyphs">16&#8722;Aug</text>
<text x="180.5" y="480" font-size="11" textLength="37.0" lengthAdjust="spacingAndGlyphs">17&#8722;Aug</text>
<text x="308.5" y="480" font-size="11" textLength="37.0" lengthAdjust="spacingAndGlyphs">18&#8722;Aug</text>
<text x="437.5" y="480" font-size="11" textLength="37.0" lengthAdjust="spacingAndGlyphs">19&#8722;Aug</text>
<text x="565.5" y="480" font-size="11" textLength="37.0" lengthAdjust="spacingAndGlyphs">20&#8722;Aug</text>
<text x="694.5" y="480" font-size="11" textLength="37.0" lengthAdjust="spacingAndGlyphs">21&#8722;Aug</text>
<text x="822.5" y="480" font-size="11" textLength="37.0" lengthAdjust="spacingAndGlyphs">22&#8722;Aug</text>
<text x="951.5" y="480" font-size="11" textLength="37.0" lengthAdjust="spacingAndGlyphs">23&#8722;Aug</text>
<text x="489.5" y="495" font-size="12" textLength="24.7" lengthAdjust="spacingAndGlyphs">Date</text>
<text x="521.7" y="495" font-size="12" textLength="28.5" lengthAdjust="spacingAndGlyphs">(EST)</text>
<text transform="translate(31,56.4) rotate(-90)" x="0" y="0" font-size="13" textLength="6.6" lengthAdjust="spacingAndGlyphs">C</text>
<text transform="translate(31,82.8) rotate(-90)" x="0" y="0" font-size="13" textLength="18.0" lengthAdjust="spacingAndGlyphs">Deg</text>
<text transform="translate(31,166.1) rotate(-90)" x="0" y="0" font-size="13" textLength="76.1" lengthAdjust="spacingAndGlyphs">Temperature,</text>
<text transform="translate(31,251) rotate(-90)" x="0" y="0" font-size="13" textLength="15.4" lengthAdjust="spacingAndGlyphs">cm</text>
<text transform="translate(31,283.6) rotate(-90)" x="0" y="0" font-size="13" textLength="24.0" lengthAdjust="spacingAndGlyphs">Dep,</text>
<text transform="translate(31,318.4) rotate(-90)" x="0" y="0" font-size="13" textLength="25.4" lengthAdjust="spacingAndGlyphs">Snow</text>
<text transform="translate(31,384.2) rotate(-90)" x="0" y="0" font-size="13" textLength="17.6" lengthAdjust="spacingAndGlyphs">m/s</text>
<text transform="translate(31,420.5) rotate(-90)" x="0" y="0" font-size="13" textLength="25.3" lengthAdjust="spacingAndGlyphs">Spd,</text>
<text transform="translate(31,453.5) rotate(-90)" x="0" y="0" font-size="13" textLength="25.3" lengthAdjust="spacingAndGlyphs">Wind</text>
</g>
</svg>
</body></html>
